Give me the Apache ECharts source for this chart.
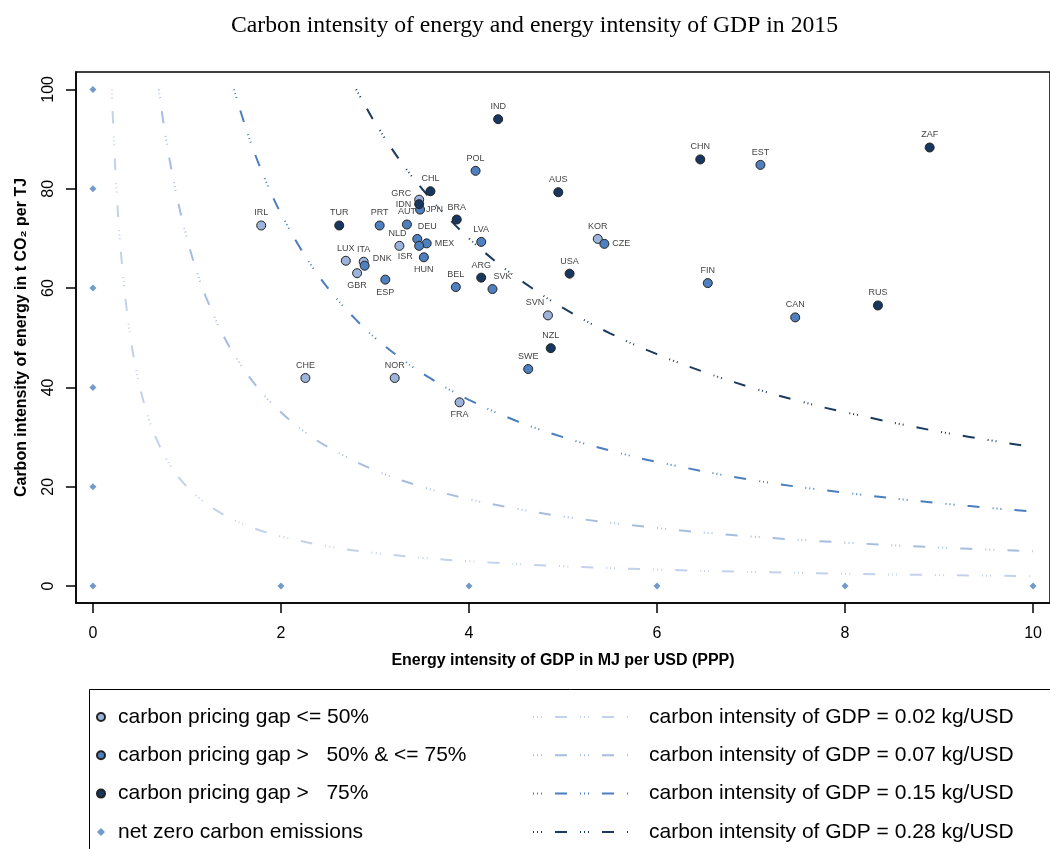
<!DOCTYPE html>
<html>
<head>
<meta charset="utf-8">
<script src="https://cdn.jsdelivr.net/npm/echarts@6/dist/echarts.min.js"></script>
<style>
  html, body { margin: 0; padding: 0; background: #fff; }
  #chart { width: 1050px; height: 849px; }
</style>
</head>
<body>
<div id="chart"></div>
<script>
// countries by carbon pricing gap (x = MJ per USD, y = t CO2 per TJ)
const lowCodes = ['IRL', 'GRC', 'NLD', 'LUX', 'ITA', 'GBR', 'KOR', 'SVN', 'CHE', 'NOR', 'FRA'];
const lowX = [1.79, 3.47, 3.26, 2.69, 2.88, 2.81, 5.37, 4.84, 2.26, 3.21, 3.90];
const lowY = [72.6, 77.8, 68.5, 65.5, 65.3, 63.0, 69.9, 54.5, 41.9, 41.9, 37.0];

const midCodes = ['PRT', 'AUT', 'JPN', 'POL', 'LVA', 'DEU', 'MEX', 'ISR', 'HUN', 'DNK', 'ESP', 'BEL', 'SVK', 'CZE', 'SWE', 'FIN', 'CAN', 'EST'];
const midX = [3.05, 3.34, 3.48, 4.07, 4.13, 3.45, 3.55, 3.47, 3.52, 2.89, 3.11, 3.86, 4.25, 5.44, 4.63, 6.54, 7.47, 7.10];
const midY = [72.6, 72.8, 75.8, 83.6, 69.3, 69.9, 69.0, 68.5, 66.2, 64.5, 61.7, 60.2, 59.8, 68.9, 43.7, 61.0, 54.1, 84.8];

const highCodes = ['TUR', 'IDN', 'CHL', 'IND', 'AUS', 'BRA', 'ARG', 'USA', 'NZL', 'CHN', 'ZAF', 'RUS'];
const highX = [2.62, 3.47, 3.59, 4.31, 4.95, 3.87, 4.13, 5.07, 4.87, 6.46, 8.90, 8.35];
const highY = [72.6, 76.9, 79.5, 94.0, 79.3, 73.8, 62.1, 62.9, 47.9, 85.9, 88.3, 56.5];

const netZeroX = [0, 0, 0, 0, 0, 0, 2, 4, 6, 8, 10];
const netZeroY = [0, 20, 40, 60, 80, 100, 0, 0, 0, 0, 0];

// iso-lines of carbon intensity of GDP
const gdpLevels = ['0.02', '0.07', '0.15', '0.28'];
const curve002X = [0.2, 0.22, 0.25, 0.28, 0.3, 0.33, 0.36, 0.4, 0.45, 0.5, 0.55, 0.6, 0.7, 0.8, 0.9, 1, 1.15, 1.3, 1.5, 1.75, 2, 2.5, 3, 3.5, 4, 5, 6, 7, 8, 9, 10];
const curve002Y = [100, 90.9, 80, 71.4, 66.7, 60.6, 55.6, 50, 44.4, 40, 36.4, 33.3, 28.6, 25, 22.2, 20, 17.4, 15.4, 13.3, 11.4, 10, 8, 6.67, 5.71, 5, 4, 3.33, 2.86, 2.5, 2.22, 2];
const curve007X = [0.7, 0.75, 0.8, 0.85, 0.9, 1, 1.1, 1.2, 1.35, 1.5, 1.75, 2, 2.25, 2.5, 3, 3.5, 4, 4.5, 5, 6, 7, 8, 9, 10];
const curve007Y = [100, 93.3, 87.5, 82.4, 77.8, 70, 63.6, 58.3, 51.9, 46.7, 40, 35, 31.1, 28, 23.3, 20, 17.5, 15.6, 14, 11.7, 10, 8.75, 7.78, 7];
const curve015X = [1.5, 1.6, 1.7, 1.8, 1.9, 2, 2.2, 2.4, 2.6, 2.8, 3, 3.3, 3.6, 4, 4.5, 5, 5.5, 6, 7, 8, 9, 10];
const curve015Y = [100, 93.8, 88.2, 83.3, 78.9, 75, 68.2, 62.5, 57.7, 53.6, 50, 45.5, 41.7, 37.5, 33.3, 30, 27.3, 25, 21.4, 18.8, 16.7, 15];
const curve028X = [2.8, 2.9, 3, 3.15, 3.3, 3.5, 3.75, 4, 4.3, 4.6, 5, 5.5, 6, 6.5, 7, 7.5, 8, 9, 10];
const curve028Y = [100, 96.6, 93.3, 88.9, 84.8, 80, 74.7, 70, 65.1, 60.9, 56, 50.9, 46.7, 43.1, 40, 37.3, 35, 31.1, 28];

const xTicks = [0, 2, 4, 6, 8, 10];
const yTicks = [0, 20, 40, 60, 80, 100];

// label placement tweaks: [position, dx, dy]
const labelPlace = {
  GRC: ['left', 0, -6], IDN: ['left', 0, 0], JPN: ['right', -2, 0], NLD: ['top', -2, 0],
  ISR: ['bottom', -14, -2], DEU: ['top', 10, 0], MEX: ['right', 0, 0], HUN: ['bottom', 0, 0],
  DNK: ['right', 0, -7], GBR: ['bottom', 0, 0], ESP: ['bottom', 0, 0], FRA: ['bottom', 0, 0],
  SVK: ['top', 10, 0], SVN: ['top', -13, 0], CZE: ['right', 0, 0]
};

const fontSans = 'Liberation Sans, Arial, sans-serif';
const pointColors = ['#9cb3dc', '#4e7fbe', '#17375e'];
const curveColors = ['#c3d2ea', '#a6bde0', '#4a7ebf', '#1b3b5e'];
const dashPattern = [1, 3, 1, 3, 1, 13, 12, 13];

function pts(codes, xs, ys) {
  return codes.map((c, i) => {
    const p = labelPlace[c] || ['top', 0, 0];
    return {
      name: c,
      value: [xs[i], ys[i]],
      label: { position: p[0], offset: [p[1], p[2]] }
    };
  });
}

function line(xs, ys) {
  return xs.map((x, i) => [x, ys[i]]);
}

const scatterNames = [
  'carbon pricing gap <= 50%',
  'carbon pricing gap >   50% & <= 75%',
  'carbon pricing gap >   75%',
  'net zero carbon emissions'
];
const curveNames = gdpLevels.map(l => 'carbon intensity of GDP = ' + l + ' kg/USD');
const curveData = [
  line(curve002X, curve002Y),
  line(curve007X, curve007Y),
  line(curve015X, curve015Y),
  line(curve028X, curve028Y)
];

const countrySeries = [
  pts(lowCodes, lowX, lowY),
  pts(midCodes, midX, midY),
  pts(highCodes, highX, highY)
].map((data, i) => ({
  name: scatterNames[i],
  type: 'scatter',
  z: 4,
  symbol: 'circle',
  symbolSize: 9,
  itemStyle: { color: pointColors[i], borderColor: '#222', borderWidth: 1, opacity: 1 },
  label: {
    show: true,
    formatter: '{b}',
    fontSize: 9,
    fontFamily: fontSans,
    color: '#444',
    distance: 3
  },
  data: data
}));

const legendText = { fontFamily: fontSans, fontSize: 21, color: '#000', lineHeight: 24 };

const chart = echarts.init(document.getElementById('chart'), null, { renderer: 'canvas' });

chart.setOption({
  animation: false,
  backgroundColor: '#fff',
  title: {
    text: 'Carbon intensity of energy and energy intensity of GDP in 2015',
    left: 226,
    top: 9,
    textStyle: { fontFamily: 'Liberation Serif, Times New Roman, serif', fontSize: 23.7, fontWeight: 'normal', color: '#000' }
  },
  grid: {
    left: 76, top: 72, width: 985, height: 531,
    show: true, borderColor: '#000', borderWidth: 1.5, backgroundColor: 'transparent'
  },
  xAxis: {
    type: 'value',
    min: -0.18,
    max: 10.18,
    name: 'Energy intensity of GDP in MJ per USD (PPP)',
    nameLocation: 'middle',
    nameGap: 50,
    nameTextStyle: { fontFamily: fontSans, fontSize: 16, fontWeight: 'bold', color: '#000' },
    axisLine: { show: true, onZero: false, lineStyle: { color: '#000', width: 1.5 } },
    axisTick: { show: true, customValues: xTicks, length: 10, lineStyle: { color: '#000', width: 1.5 } },
    axisLabel: { customValues: xTicks, margin: 23, fontFamily: fontSans, fontSize: 16, color: '#000' },
    splitLine: { show: false }
  },
  yAxis: {
    type: 'value',
    min: -3.4,
    max: 103.5,
    name: 'Carbon intensity of energy in t CO\u2082 per TJ',
    nameLocation: 'middle',
    nameGap: 46,
    nameTextStyle: { fontFamily: fontSans, fontSize: 16, fontWeight: 'bold', color: '#000' },
    axisLine: { show: true, onZero: false, lineStyle: { color: '#000', width: 1.5 } },
    axisTick: { show: true, customValues: yTicks, length: 10, lineStyle: { color: '#000', width: 1.5 } },
    axisLabel: { customValues: yTicks, margin: 19, rotate: 90, fontFamily: fontSans, fontSize: 16, color: '#000' },
    splitLine: { show: false }
  },
  legend: [
    {
      orient: 'vertical',
      left: 91,
      top: 700,
      height: 400,
      itemWidth: 8,
      itemHeight: 8,
      itemGap: 14.3,
      data: scatterNames,
      textStyle: Object.assign({ padding: [0, 0, 0, 8] }, legendText)
    },
    {
      orient: 'vertical',
      left: 527,
      top: 700,
      height: 400,
      itemWidth: 95,
      itemHeight: 8,
      itemGap: 14.3,
      data: curveNames,
      itemStyle: { opacity: 0 },
      textStyle: Object.assign({ padding: [0, 0, 0, 16] }, legendText)
    }
  ],
  graphic: [
    {
      type: 'rect',
      left: 87,
      top: 687,
      shape: { width: 1000, height: 200 },
      style: { fill: 'none', stroke: '#000', lineWidth: 1 },
      silent: true
    }
  ],
  series: curveData.map((d, i) => ({
    name: curveNames[i],
    type: 'line',
    z: 2,
    symbol: 'none',
    smooth: 0.4,
    lineStyle: { color: curveColors[i], width: 2, type: dashPattern },
    itemStyle: { color: curveColors[i] },
    data: d
  })).concat(countrySeries).concat([
    {
      name: scatterNames[3],
      type: 'scatter',
      z: 3,
      symbol: 'diamond',
      symbolSize: 7,
      itemStyle: { color: '#4f81bd' },
      data: line(netZeroX, netZeroY)
    }
  ])
});
</script>
</body>
</html>
